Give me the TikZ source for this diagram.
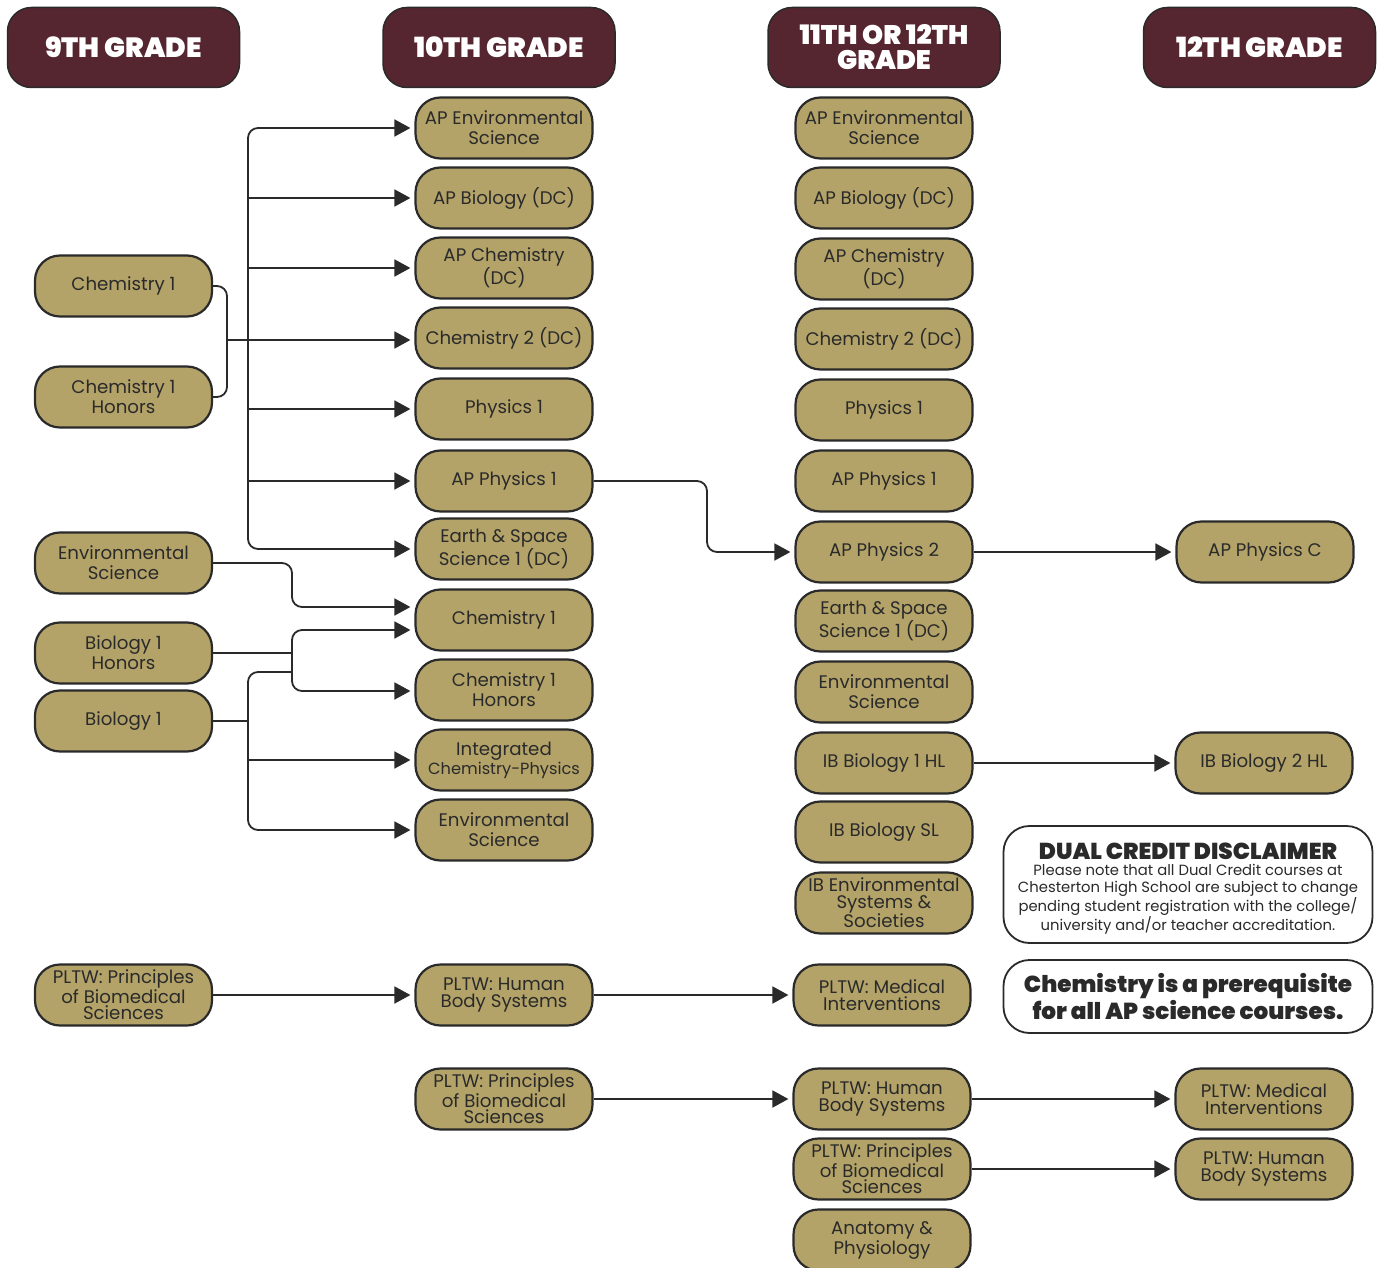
\documentclass[tikz,border=0pt]{standalone}
\usepackage{fontspec}
\setmainfont{Poppins}
\newfontfamily\heavy{Poppins Black}
\usetikzlibrary{arrows.meta}
\definecolor{maroon}{HTML}{55262F}
\definecolor{gold}{HTML}{B3A369}
\definecolor{ink}{HTML}{2A2A2A}
\newcommand\dtxt{\fontsize{14.8}{17.3}\selectfont}
\begin{document}
\begin{tikzpicture}[x=1pt,y=-1pt,
  hdr/.style={draw=ink, line width=1.5pt, fill=maroon, rounded corners=24pt,
    minimum width=232pt, minimum height=80pt, text=white, inner sep=0pt,
    font=\fontsize{27.8}{24}\selectfont\heavy, align=center},
  course/.style={draw=ink, line width=2.2pt, fill=gold, rounded corners=25pt,
    minimum width=177pt, minimum height=61pt, text=ink, inner sep=0pt,
    font=\fontsize{18.2}{20}\selectfont, align=center},
  tight/.style={font=\fontsize{18.2}{16.5}\selectfont},
  note/.style={draw=ink, line width=1.8pt, fill=white, rounded corners=26pt,
    minimum width=369pt, text=ink, inner sep=0pt, align=center},
  link/.style={draw=ink, line width=1.8pt, rounded corners=10pt},
  arr/.style={link, -{Triangle[length=16pt,width=17pt]}, shorten >=4pt}
]
\useasboundingbox (0,0) rectangle (1382,1268);

% headers
\node[hdr] (h9) at (123.5,47.5) {9TH GRADE};
\node[hdr] (h10) at (499,47.5) {10TH GRADE};
\node[hdr, font=\fontsize{26.8}{25}\selectfont\heavy] (h11) at (884,47.5) {11TH OR 12TH\\GRADE};
\node[hdr] (h12) at (1259.5,47.5) {12TH GRADE};

% 9th grade
\node[course] (c9a) at (123.5,286) {Chemistry 1};
\node[course] (c9h) at (123.5,397) {Chemistry 1\\Honors};
\node[course] (e9) at (123.5,563) {Environmental\\Science};
\node[course] (b9h) at (123.5,653) {Biology 1\\Honors};
\node[course] (b9) at (123.5,721) {Biology 1};
\node[course,tight] (p9) at (123.5,995) {PLTW: Principles\\of Biomedical\\Sciences};

% 10th grade
\node[course] (t1) at (504,128) {AP Environmental\\Science};
\node[course] (t2) at (504,198) {AP Biology (DC)};
\node[course] (t3) at (504,268) {AP Chemistry\\(DC)};
\node[course] (t4) at (504,338) {Chemistry 2 (DC)};
\node[course] (t5) at (504,409) {Physics 1};
\node[course] (t6) at (504,481) {AP Physics 1};
\node[course] (t7) at (504,549) {Earth \& Space\\Science 1 (DC)};
\node[course] (t8) at (504,620) {Chemistry 1};
\node[course] (t9) at (504,690) {Chemistry 1\\Honors};
\node[course,font=\fontsize{18.2}{19}\selectfont] (t10) at (504,760) {Integrated\\\fontsize{16.2}{19}\selectfont Chemistry-Physics};
\node[course] (t11) at (504,830) {Environmental\\Science};
\node[course,tight] (t12) at (504,995) {PLTW: Human\\Body Systems};
\node[course,tight] (t13) at (504,1099) {PLTW: Principles\\of Biomedical\\Sciences};

% 11th or 12th grade
\node[course] (u1) at (884,128) {AP Environmental\\Science};
\node[course] (u2) at (884,198) {AP Biology (DC)};
\node[course] (u3) at (884,269) {AP Chemistry\\(DC)};
\node[course] (u4) at (884,339) {Chemistry 2 (DC)};
\node[course] (u5) at (884,410) {Physics 1};
\node[course] (u6) at (884,481) {AP Physics 1};
\node[course] (u7) at (884,552) {AP Physics 2};
\node[course] (u8) at (884,621) {Earth \& Space\\Science 1 (DC)};
\node[course] (u9) at (884,692) {Environmental\\Science};
\node[course] (u10) at (884,763) {IB Biology 1 HL};
\node[course] (u11) at (884,832) {IB Biology SL};
\node[course,tight] (u12) at (884,903) {IB Environmental\\Systems \&\\Societies};
\node[course,tight] (u13) at (882,995) {PLTW: Medical\\Interventions};
\node[course,tight] (u14) at (882,1099) {PLTW: Human\\Body Systems};
\node[course,tight] (u15) at (882,1169) {PLTW: Principles\\of Biomedical\\Sciences};
\node[course] (u16) at (882,1240) {Anatomy \&\\Physiology};

% 12th grade
\node[course] (v1) at (1265,552) {AP Physics C};
\node[course] (v2) at (1264,763) {IB Biology 2 HL};
\node[course,tight] (v3) at (1264,1099) {PLTW: Medical\\Interventions};
\node[course,tight] (v4) at (1264,1169) {PLTW: Human\\Body Systems};

% notes
\node[note, minimum height=117pt, font=\dtxt] (dis) at (1188,884.5) {%
  \fontsize{23}{25}\selectfont\heavy\rule{0pt}{25pt}DUAL CREDIT DISCLAIMER\\[-1pt]
  \dtxt Please note that all Dual Credit courses at\\
  \dtxt Chesterton High School are subject to change\\
  \dtxt pending student registration with the college/\\
  \dtxt university and/or teacher accreditation.};
\node[note, minimum height=73pt, font=\fontsize{23.1}{27}\selectfont\heavy] (pre) at (1188,996.5) {%
  Chemistry is a prerequisite\\for all AP science courses.};

% chemistry 1 bracket and main trunk
\coordinate (bx) at (227,340);
\coordinate (tk) at (248,340);
\draw[link] (c9a.east) -| (bx) |- (c9h.east);
\draw[link] (bx) -- (tk);
\draw[arr] (tk) |- (t1.west);
\draw[arr] (tk |- t2.west) -- (t2.west);
\draw[arr] (tk |- t3.west) -- (t3.west);
\draw[arr] (tk) -- (t4.west |- tk);
\draw[arr] (tk |- t5.west) -- (t5.west);
\draw[arr] (tk |- t6.west) -- (t6.west);
\draw[arr] (tk) |- (t7.west);

% environmental science 9th
\coordinate (ex) at (292,585);
\draw[arr] (e9.east) -| (ex) |- (t8.west |- 0,607);

% biology 1 honors
\coordinate (bh) at (292,653);
\draw[link] (b9h.east) -- (bh);
\draw[arr] (bh) |- (t8.west |- 0,630);
\draw[arr] (bh) |- (t9.west |- 0,691);

% biology 1
\coordinate (bb) at (248,721);
\draw[link] (b9.east) -- (bb);
\draw[link] (bb) |- (bh |- 0,672);
\draw[arr] (bb) |- (t11.west);
\draw[arr] (bb |- t10.west) -- (t10.west);

% physics path
\coordinate (px) at (707,516);
\draw[arr] (t6.east) -| (px) |- (u7.west);
\draw[arr] (u7.east) -- (v1.west);
\draw[arr] (u10.east) -- (v2.west);

% PLTW
\draw[arr] (p9.east) -- (t12.west);
\draw[arr] (t12.east) -- (u13.west);
\draw[arr] (t13.east) -- (u14.west);
\draw[arr] (u14.east) -- (v3.west);
\draw[arr] (u15.east) -- (v4.west);
\end{tikzpicture}
\end{document}
